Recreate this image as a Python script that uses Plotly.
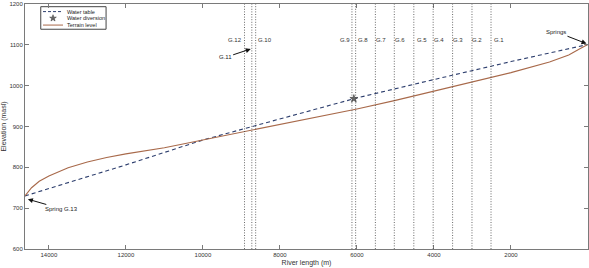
import plotly.graph_objects as go

# ---- data ----
water_x = [14620, 12000, 10000, 8000, 6000, 4000, 2000, 0]
water_y = [730, 806, 867, 918, 970, 1015, 1059, 1101]

terrain_x = [14620, 14450, 14250, 14000, 13500, 13000, 12500, 12000, 11000,
             10160, 9000, 8000, 7000, 6000, 5000, 4000, 3000, 2000, 1000, 500, 200, 0]
terrain_y = [730, 750, 766, 779, 799, 813, 824, 833, 848,
             864, 887, 906, 925, 943, 964, 987, 1010, 1032, 1058, 1075, 1091, 1101]

diversion_x = [6080]
diversion_y = [968]

gauge_names = ["G.1", "G.2", "G.3", "G.4", "G.5", "G.6", "G.7", "G.8", "G.9", "G.10", "G.11", "G.12"]
gauge_x = [2518, 3013, 3516, 4021, 4523, 5030, 5521, 6034, 6130, 8630, 8730, 8920]

# labels placed next to gauge lines (G.11 uses an arrow)
label_names = ["G.1", "G.2", "G.3", "G.4", "G.5", "G.6", "G.7", "G.8", "G.9", "G.10", "G.12"]
label_x = [2313, 2877, 3371, 3864, 4314, 4878, 5371, 5839, 6307, 8386, 9163]
label_y = 1112

x_ticks = [0, 2000, 4000, 6000, 8000, 10000, 12000, 14000]
y_ticks = [600, 700, 800, 900, 1000, 1100, 1200]

legend_names = ["Water table", "Water diversion", "Terrain level"]

FONT = "Liberation Sans, Arial, sans-serif"
WATER_COLOR = "#2e3f6e"
TERRAIN_COLOR = "#a8694a"
MARK_COLOR = "#666666"

fig = go.Figure()

fig.add_trace(go.Scatter(
    x=water_x, y=water_y, mode="lines", name=legend_names[0], showlegend=False,
    line=dict(color=WATER_COLOR, width=1.1, dash="4px,3px")))
fig.add_trace(go.Scatter(
    x=diversion_x, y=diversion_y, mode="markers", name=legend_names[1], showlegend=False,
    marker=dict(symbol="star", size=6, color=MARK_COLOR,
                line=dict(color="#333333", width=0.5))))
fig.add_trace(go.Scatter(
    x=terrain_x, y=terrain_y, mode="lines", name=legend_names[2], showlegend=False,
    line=dict(color=TERRAIN_COLOR, width=1.1)))

for gx in gauge_x:
    fig.add_vline(x=gx, line=dict(color="#444444", width=0.8, dash="1px,1.6px"))

for name, lx in zip(label_names, label_x):
    fig.add_annotation(x=lx, y=label_y, text=name, showarrow=False,
                       font=dict(size=6, color="#333333", family=FONT))

arrow_notes = [
    ("G.11", 8758, 1090, 9422, 1069),
    ("Springs", 40, 1103, 832, 1132),
    ("Spring G.13", 14545, 722, 13661, 698),
]
for text, tx, ty, ax, ay in arrow_notes:
    fig.add_annotation(x=tx, y=ty, ax=ax, ay=ay, axref="x", ayref="y",
                       text=text, showarrow=True, arrowhead=2, arrowsize=1,
                       arrowwidth=1, arrowcolor="#111111",
                       font=dict(size=6, color="#222222", family=FONT))

# ---- compact legend box ----
leg_box = dict(x0=0.028, x1=0.144, y0=0.897, y1=0.989)
leg_rows = [0.969, 0.942, 0.914]
leg_sample = (0.032, 0.0675)
leg_text_x = 0.071

fig.add_shape(type="rect", xref="paper", yref="paper", **leg_box,
              line=dict(color="#444444", width=1), fillcolor="white", layer="below")
fig.add_shape(type="line", xref="paper", yref="paper",
              x0=leg_sample[0], x1=leg_sample[1], y0=leg_rows[0], y1=leg_rows[0],
              line=dict(color=WATER_COLOR, width=1, dash="3px,2px"), layer="above")
fig.add_shape(type="line", xref="paper", yref="paper",
              x0=leg_sample[0], x1=leg_sample[1], y0=leg_rows[2], y1=leg_rows[2],
              line=dict(color=TERRAIN_COLOR, width=1), layer="above")
fig.add_trace(go.Scatter(
    x=[(leg_sample[0] + leg_sample[1]) / 2], y=[leg_rows[1]], xaxis="x2", yaxis="y2",
    mode="markers", showlegend=False, hoverinfo="skip",
    marker=dict(symbol="star", size=5, color=MARK_COLOR,
                line=dict(color="#333333", width=0.5))))
for name, ry in zip(legend_names, leg_rows):
    fig.add_annotation(x=leg_text_x, y=ry, xref="paper", yref="paper", text=name,
                       showarrow=False, xanchor="left", yanchor="middle",
                       font=dict(size=5.5, color="#222222", family=FONT))

axis_common = dict(
    showline=True, linecolor="#7a7a7a", linewidth=1, mirror="ticks",
    ticks="inside", ticklen=4, tickcolor="#7a7a7a", showgrid=False,
    zeroline=False, tickfont=dict(size=6, color="#333333", family=FONT),
)

fig.update_layout(
    width=589, height=268,
    margin=dict(l=25, r=1, t=4, b=19),
    paper_bgcolor="white", plot_bgcolor="white",
    font=dict(family=FONT, size=6, color="#333333"),
    xaxis=dict(range=[14620, 0], tickvals=x_ticks,
               ticktext=[str(v) for v in x_ticks],
               title=dict(text="River length (m)", standoff=2,
                          font=dict(size=7, color="#333333")),
               automargin=False, **axis_common),
    yaxis=dict(range=[600, 1200], tickvals=y_ticks,
               ticktext=[str(v) for v in y_ticks],
               title=dict(text="Elevation (masl)", standoff=2,
                          font=dict(size=7, color="#333333")),
               automargin=False, **axis_common),
    xaxis2=dict(overlaying="x", range=[0, 1], visible=False, fixedrange=True),
    yaxis2=dict(overlaying="y", range=[0, 1], visible=False, fixedrange=True),
    showlegend=False,
)

fig.write_html("out.html", config={"displayModeBar": False},
               post_script="document.body.style.margin='0px';document.body.style.overflow='hidden';")
